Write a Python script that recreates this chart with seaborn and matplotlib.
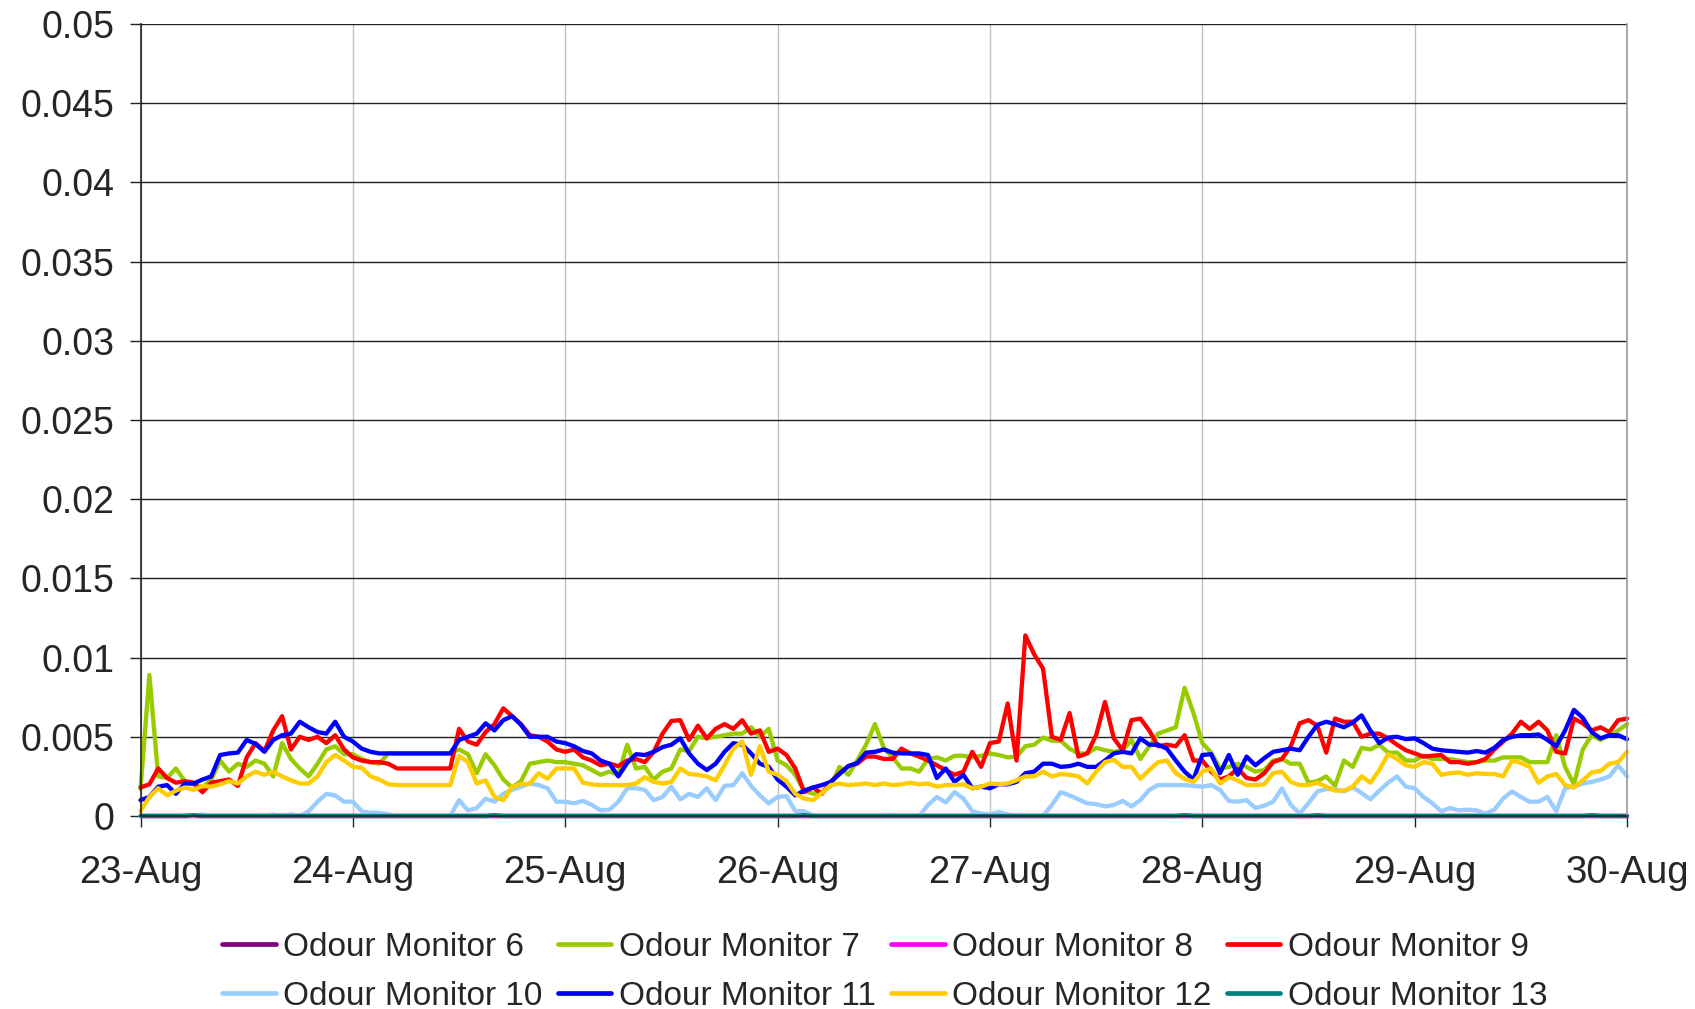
import numpy as np
import pandas as pd
import matplotlib
matplotlib.use("Agg")
import matplotlib.pyplot as plt
import matplotlib.dates as mdates
from matplotlib.lines import Line2D
from matplotlib.ticker import FuncFormatter, MultipleLocator
import seaborn as sns

# hourly readings from 23-Aug 00:00 to 30-Aug 00:00, typed in thousandths
monitor_names = ["Odour Monitor 6", "Odour Monitor 7", "Odour Monitor 8", "Odour Monitor 9",
                 "Odour Monitor 10", "Odour Monitor 11", "Odour Monitor 12", "Odour Monitor 13"]
colors = ["#800080", "#99CC00", "#FF00FF", "#FF0000",
          "#99CCFF", "#0000FF", "#FFCC00", "#008080"]

mon6 = [0.0] * 169
mon8 = [0.0] * 169

mon7 = [
    1.7, 8.9, 2.5, 2.4, 3.0, 2.2, 2.0, 1.8, 2.3, 3.5, 2.8, 3.3, 3.1, 3.5, 3.3, 2.5, 4.6, 3.6, 3.0, 2.5, 3.3, 4.2, 4.4, 3.9,
    3.9, 3.6, 3.4, 3.3, 3.95, 3.95, 3.95, 3.95, 3.95, 3.95, 3.95, 3.95, 4.2, 3.9, 2.7, 3.9, 3.2, 2.3, 1.8, 2.2, 3.3, 3.4, 3.5, 3.4,
    3.4, 3.3, 3.2, 2.9, 2.6, 2.8, 2.6, 4.5, 3.0, 3.1, 2.3, 2.8, 3.0, 4.2, 4.1, 5.0, 4.9, 5.0, 5.1, 5.2, 5.2, 5.6, 5.0, 5.5,
    3.5, 3.2, 2.6, 1.6, 1.4, 1.5, 1.9, 3.1, 2.6, 3.5, 4.5, 5.8, 4.3, 3.7, 3.0, 3.0, 2.8, 3.6, 3.7, 3.5, 3.8, 3.8, 3.7, 3.8,
    3.95, 3.85, 3.7, 3.75, 4.4, 4.5, 4.95, 4.75, 4.75, 4.25, 3.95, 3.95, 4.3, 4.15, 4.05, 4.15, 4.8, 3.6, 4.4, 5.2, 5.4, 5.6, 8.1, 6.5,
    4.6, 4.0, 3.0, 3.1, 3.3, 3.1, 2.8, 2.9, 3.5, 3.6, 3.3, 3.3, 2.1, 2.2, 2.5, 1.9, 3.5, 3.1, 4.3, 4.2, 4.5, 4.0, 4.0, 3.5,
    3.5, 3.8, 3.6, 3.6, 3.6, 3.5, 3.4, 3.4, 3.5, 3.5, 3.7, 3.7, 3.7, 3.4, 3.4, 3.4, 5.1, 3.1, 2.0, 4.2, 5.1, 4.8, 5.1, 5.4,
    5.8]

mon9 = [
    1.8, 2.0, 3.0, 2.4, 2.1, 2.2, 2.1, 1.5, 2.1, 2.2, 2.3, 1.9, 3.7, 4.6, 4.1, 5.4, 6.3, 4.2, 5.0, 4.8, 5.0, 4.6, 5.1, 4.2,
    3.7, 3.5, 3.4, 3.4, 3.3, 3.0, 3.0, 3.0, 3.0, 3.0, 3.0, 3.0, 5.5, 4.7, 4.5, 5.3, 5.8, 6.8, 6.3, 5.8, 5.1, 5.0, 4.7, 4.2,
    4.05, 4.2, 3.7, 3.5, 3.2, 3.3, 3.15, 3.5, 3.6, 3.4, 4.05, 5.2, 6.0, 6.05, 4.8, 5.7, 4.9, 5.5, 5.8, 5.5, 6.05, 5.2, 5.4, 4.05,
    4.25, 3.85, 3.0, 1.5, 1.8, 1.4, 2.15, 2.7, 3.15, 3.3, 3.75, 3.75, 3.6, 3.6, 4.25, 3.95, 3.75, 3.5, 3.2, 2.9, 2.6, 2.8, 4.05, 3.1,
    4.6, 4.7, 7.1, 3.5, 11.4, 10.2, 9.3, 5.0, 4.8, 6.5, 3.75, 3.95, 5.1, 7.2, 4.9, 4.15, 6.05, 6.15, 5.4, 4.4, 4.5, 4.4, 5.1, 3.5,
    3.5, 2.8, 2.3, 2.5, 3.0, 2.4, 2.3, 2.7, 3.4, 3.6, 4.4, 5.85, 6.05, 5.7, 4.0, 6.15, 5.95, 5.95, 5.0, 5.2, 5.2, 4.9, 4.5, 4.15,
    3.95, 3.75, 3.8, 3.85, 3.4, 3.4, 3.3, 3.4, 3.6, 4.2, 4.7, 5.2, 5.95, 5.5, 5.95, 5.4, 4.05, 3.95, 6.15, 5.85, 5.4, 5.6, 5.3, 6.05,
    6.15]

mon10 = [
    0, 0, 0, 0, 0, 0, 0, 0.1, 0, 0, 0, 0, 0, 0, 0, 0.1, 0, 0.1, 0, 0.3, 0.9, 1.4, 1.3, 0.9,
    0.9, 0.3, 0.2, 0.2, 0.1, 0, 0, 0, 0, 0, 0, 0, 1.0, 0.35, 0.5, 1.1, 0.9, 1.4, 1.65, 1.85, 2.05, 1.95, 1.75, 0.9,
    0.9, 0.8, 0.95, 0.7, 0.35, 0.4, 0.9, 1.75, 1.75, 1.65, 1.0, 1.2, 1.85, 1.05, 1.4, 1.2, 1.75, 1.0, 1.9, 1.95, 2.7, 1.9, 1.3, 0.8,
    1.2, 1.25, 0.3, 0.3, 0.05, 0, 0, 0, 0, 0, 0, 0, 0, 0.05, 0, 0, 0, 0.7, 1.2, 0.85, 1.5, 1.1, 0.3, 0.15,
    0.1, 0.25, 0.1, 0, 0, 0, 0, 0.7, 1.5, 1.3, 1.05, 0.8, 0.75, 0.6, 0.7, 0.95, 0.6, 1.0, 1.65, 1.95, 1.95, 1.95, 1.95, 1.9,
    1.85, 1.95, 1.65, 0.95, 0.9, 1.0, 0.5, 0.65, 0.9, 1.75, 0.7, 0.15, 0.8, 1.55, 1.7, 1.7, 1.55, 1.8, 1.45, 1.05, 1.6, 2.1, 2.5, 1.85,
    1.75, 1.2, 0.8, 0.3, 0.5, 0.35, 0.4, 0.35, 0.15, 0.4, 1.1, 1.55, 1.2, 0.9, 0.9, 1.2, 0.3, 1.75, 1.85, 2.05, 2.15, 2.3, 2.5, 3.2,
    2.5]

mon11 = [
    1.0, 1.2, 1.85, 1.95, 1.4, 2.05, 2.05, 2.3, 2.5, 3.85, 3.95, 4.0, 4.8, 4.55, 4.05, 4.8, 5.1, 5.2, 5.95, 5.6, 5.3, 5.2, 5.95, 5.0,
    4.7, 4.25, 4.05, 3.95, 3.95, 3.95, 3.95, 3.95, 3.95, 3.95, 3.95, 3.95, 4.8, 5.0, 5.2, 5.85, 5.4, 6.05, 6.3, 5.75, 5.0, 5.0, 5.0, 4.7,
    4.6, 4.4, 4.1, 3.95, 3.5, 3.3, 2.5, 3.35, 3.9, 3.85, 4.05, 4.35, 4.5, 4.9, 3.95, 3.3, 2.9, 3.3, 4.05, 4.6, 4.5, 3.95, 3.3, 3.1,
    2.3, 1.85, 1.3, 1.6, 1.8, 1.95, 2.15, 2.65, 3.15, 3.35, 4.0, 4.05, 4.2, 4.0, 3.95, 3.95, 3.95, 3.85, 2.4, 3.0, 2.15, 2.6, 1.75, 1.85,
    1.75, 2.0, 2.0, 2.15, 2.7, 2.8, 3.3, 3.3, 3.1, 3.15, 3.3, 3.1, 3.1, 3.5, 3.95, 4.05, 3.95, 4.9, 4.5, 4.5, 4.25, 3.5, 2.8, 2.3,
    3.85, 3.9, 2.7, 3.85, 2.6, 3.75, 3.2, 3.65, 4.05, 4.15, 4.25, 4.15, 5.0, 5.75, 5.95, 5.8, 5.6, 5.9, 6.35, 5.4, 4.6, 4.95, 5.0, 4.85,
    4.9, 4.6, 4.25, 4.15, 4.1, 4.05, 4.0, 4.1, 4.0, 4.3, 4.8, 5.0, 5.1, 5.1, 5.15, 4.8, 4.4, 5.4, 6.7, 6.2, 5.3, 4.9, 5.1, 5.1,
    4.85]

mon12 = [
    0.3, 1.2, 1.75, 1.3, 1.6, 1.8, 1.65, 1.9, 1.85, 2.0, 2.2, 2.05, 2.5, 2.8, 2.6, 2.8, 2.5, 2.25, 2.05, 2.05, 2.5, 3.4, 3.85, 3.5,
    3.1, 3.05, 2.5, 2.3, 2.0, 1.95, 1.95, 1.95, 1.95, 1.95, 1.95, 1.95, 3.8, 3.4, 2.05, 2.25, 1.2, 1.0, 1.85, 2.0, 2.05, 2.7, 2.35, 3.0,
    3.0, 3.0, 2.1, 2.0, 1.95, 1.95, 1.95, 1.95, 2.05, 2.45, 2.15, 2.05, 2.15, 3.0, 2.65, 2.6, 2.5, 2.25, 3.2, 4.25, 4.7, 2.6, 4.4, 2.8,
    2.6, 2.2, 1.4, 1.1, 1.0, 1.45, 1.95, 2.05, 1.95, 2.0, 2.05, 1.95, 2.05, 1.95, 2.0, 2.1, 2.0, 2.05, 1.85, 1.95, 1.95, 2.0, 1.75, 1.85,
    2.05, 2.0, 2.05, 2.25, 2.5, 2.5, 2.8, 2.5, 2.65, 2.6, 2.5, 2.05, 2.8, 3.4, 3.55, 3.1, 3.1, 2.35, 2.9, 3.4, 3.5, 2.7, 2.35, 2.15,
    2.8, 3.0, 2.05, 2.45, 2.25, 1.95, 1.95, 2.0, 2.7, 2.8, 2.15, 1.95, 1.95, 2.1, 1.85, 1.6, 1.6, 1.85, 2.5, 2.1, 2.9, 3.9, 3.6, 3.2,
    3.1, 3.4, 3.3, 2.6, 2.7, 2.75, 2.6, 2.7, 2.65, 2.65, 2.5, 3.5, 3.35, 3.1, 2.1, 2.5, 2.65, 1.95, 1.8, 2.25, 2.75, 2.85, 3.3, 3.4,
    4.05]

mon13 = [
    0, 0, 0, 0, 0, 0, 0.05, 0, 0, 0, 0, 0, 0, 0, 0, 0, 0, 0, 0, 0, 0, 0, 0, 0,
    0, 0, 0, 0, 0, 0, 0, 0, 0, 0, 0, 0, 0, 0, 0, 0, 0.05, 0, 0, 0, 0, 0, 0, 0,
    0, 0, 0, 0, 0, 0, 0, 0, 0, 0, 0, 0, 0, 0, 0, 0, 0, 0, 0, 0, 0, 0, 0, 0,
    0, 0, 0, 0.05, 0, 0, 0, 0, 0, 0, 0, 0, 0, 0, 0, 0, 0, 0, 0, 0, 0, 0, 0, 0,
    0, 0, 0, 0, 0, 0, 0, 0, 0, 0, 0, 0, 0, 0, 0, 0, 0, 0, 0, 0, 0, 0, 0.05, 0,
    0, 0, 0, 0, 0, 0, 0, 0, 0, 0, 0, 0, 0, 0.05, 0, 0, 0, 0, 0, 0, 0, 0, 0, 0,
    0, 0, 0, 0, 0, 0, 0, 0, 0, 0, 0, 0, 0, 0, 0, 0, 0, 0, 0, 0, 0.05, 0, 0, 0,
    0]

series = [mon6, mon7, mon8, mon9, mon10, mon11, mon12, mon13]
times = pd.date_range("2008-08-23", periods=169, freq="h")

# long table for seaborn
frames = []
for name, vals in zip(monitor_names, series):
    frames.append(pd.DataFrame({"time": times, "value": np.array(vals) / 1000.0, "monitor": name}))
df = pd.concat(frames, ignore_index=True)

sns.set_style("white")
plt.rcParams["font.family"] = ["Liberation Sans", "DejaVu Sans"]

fig = plt.figure(figsize=(16.95, 10.09), dpi=100)
ax = fig.add_axes([0.0829, 0.1913, 0.9599 - 0.0829, 0.9762 - 0.1913])

lw = 3.1
sns.lineplot(data=df, x="time", y="value", hue="monitor", hue_order=monitor_names,
             palette=dict(zip(monitor_names, colors)), linewidth=lw,
             estimator=None, errorbar=None, legend=False, ax=ax)
for line in ax.lines:
    line.set_clip_on(False)
    line.set_solid_joinstyle("round")

ax.set_xlim(times[0], times[-1])
ax.set_ylim(0, 0.05)
ax.yaxis.set_major_locator(MultipleLocator(0.005))
ax.yaxis.set_major_formatter(FuncFormatter(lambda v, p: "{:g}".format(round(v, 4))))
ax.xaxis.set_major_locator(mdates.DayLocator())
ax.xaxis.set_major_formatter(mdates.DateFormatter("%d-%b"))
ax.set_xlabel("")
ax.set_ylabel("")

ax.set_axisbelow(True)
ax.grid(axis="y", color="#222222", linewidth=1.0)
ax.grid(axis="x", color="#c0c0c0", linewidth=1.0)
ax.spines["top"].set_visible(False)
ax.spines["left"].set_color("#222222")
ax.spines["bottom"].set_color("#222222")
ax.spines["right"].set_color("#999999")
for s in ax.spines.values():
    s.set_linewidth(1.2)

ax.tick_params(axis="y", direction="out", length=8, width=1, color="#222222",
               labelsize=27, pad=11, left=True)
ax.tick_params(axis="x", direction="out", length=8, width=1, color="#222222",
               labelsize=27.5, pad=20, bottom=True)

# legend laid out row by row like the original
handles = [Line2D([], [], color=c, linewidth=3.4) for c in colors]
order = [0, 4, 1, 5, 2, 6, 3, 7]
fig.legend([handles[i] for i in order], [monitor_names[i] for i in order],
           ncol=4, loc="upper center", bbox_to_anchor=(0.522, 0.093),
           frameon=False, fontsize=24, handlelength=1.6, handletextpad=0.22,
           columnspacing=0.47, labelspacing=0.55, borderpad=0)

fig.savefig("out.png", dpi=100)
